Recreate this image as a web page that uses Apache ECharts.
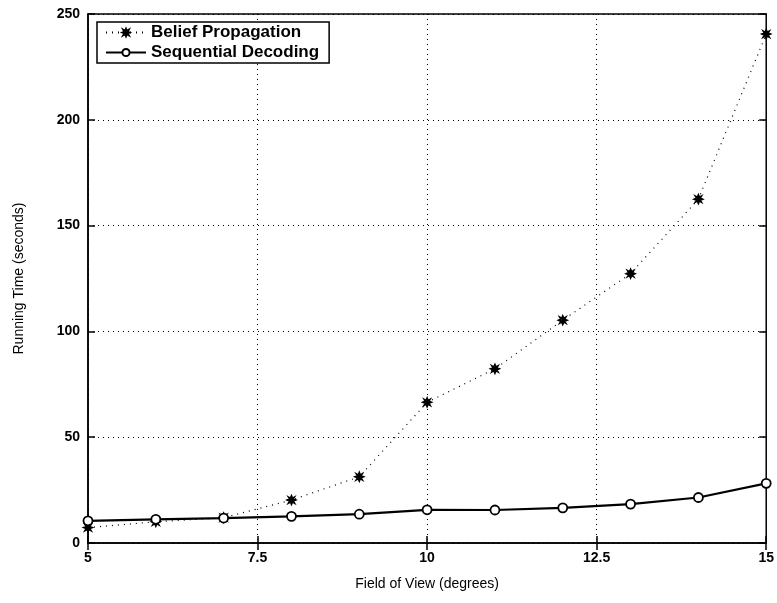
<!DOCTYPE html>
<html>
<head>
<meta charset="utf-8">
<script src="https://cdn.jsdelivr.net/npm/echarts@6/dist/echarts.min.js"></script>
<style>
  html, body { margin: 0; padding: 0; background: #fff; }
  #chart { width: 777px; height: 603px; }
</style>
</head>
<body>
<div id="chart"></div>
<script>
// field of view (degrees)
var fov = [5, 6, 7, 8, 9, 10, 11, 12, 13, 14, 15];
// running time (seconds)
var beliefProp = [7.3, 10, 12, 20.3, 31.3, 66.5, 82.3, 105.3, 127.3, 162.5, 240.5];
var seqDecoding = [10.5, 11.2, 11.8, 12.6, 13.6, 15.7, 15.6, 16.6, 18.4, 21.5, 28.2];

var xTicks = [5, 7.5, 10, 12.5, 15];
var yTicks = [0, 50, 100, 150, 200, 250];

function pairs(xs, ys) {
  return xs.map(function (x, i) { return [x, ys[i]]; });
}

// blobby asterisk for the "*" marker
var starPath = 'path://M50,0 L62,28 L85,15 L72,38 L100,50 L72,62 L85,85 L62,72 L50,100 L38,72 L15,85 L28,62 L0,50 L28,38 L15,15 L38,28 Z';

var font = 'Liberation Sans, Arial, Helvetica, sans-serif';

var myChart = echarts.init(document.getElementById('chart'));
var option = {
  animation: false,
  backgroundColor: '#fff',
  textStyle: { fontFamily: font },
  grid: {
    left: 88, right: 10, top: 14, bottom: 60,
    show: true, borderColor: '#000', borderWidth: 1.5
  },
  legend: {
    left: 97, top: 22,
    orient: 'vertical',
    backgroundColor: '#fff',
    borderColor: '#000', borderWidth: 1.5,
    padding: [2, 10, 2, 8],
    itemGap: 3,
    itemWidth: 40, itemHeight: 9,
    textStyle: { fontFamily: font, fontSize: 17, fontWeight: 'bold', color: '#000' },
    data: ['Belief Propagation', 'Sequential Decoding']
  },
  xAxis: [{
    type: 'value', min: 5, max: 15, interval: 2.5,
    name: 'Field of View (degrees)', nameLocation: 'middle', nameGap: 34,
    nameTextStyle: { fontSize: 14, color: '#000' },
    axisLine: { lineStyle: { color: '#000', width: 1.5 } },
    axisTick: { inside: true, length: 7, lineStyle: { color: '#000', width: 1.5 } },
    axisLabel: {
      fontSize: 14, fontWeight: 'bold', color: '#000', margin: 8,
      formatter: function (v) { return xTicks.indexOf(v) >= 0 ? String(v) : ''; }
    },
    splitLine: { show: true, lineStyle: { color: '#000', type: [1, 4], width: 1 } }
  }, {
    type: 'value', min: 5, max: 15, interval: 2.5, position: 'top',
    axisLine: { show: false },
    axisTick: { inside: true, length: 7, lineStyle: { color: '#000', width: 1.5 } },
    axisLabel: { show: false },
    splitLine: { show: false }
  }],
  yAxis: [{
    type: 'value', min: 0, max: 250, interval: 50,
    name: 'Running Time (seconds)', nameLocation: 'middle', nameGap: 62,
    nameTextStyle: { fontSize: 14, color: '#000' },
    axisLine: { show: true, lineStyle: { color: '#000', width: 1.5 } },
    axisTick: { show: true, inside: true, length: 7, lineStyle: { color: '#000', width: 1.5 } },
    axisLabel: {
      fontSize: 14, fontWeight: 'bold', color: '#000', margin: 8,
      formatter: function (v) { return yTicks.indexOf(v) >= 0 ? String(v) : ''; }
    },
    splitLine: { show: true, lineStyle: { color: '#000', type: [1, 4], width: 1 } }
  }, {
    type: 'value', min: 0, max: 250, interval: 50, position: 'right',
    axisLine: { show: false },
    axisTick: { show: true, inside: true, length: 7, lineStyle: { color: '#000', width: 1.5 } },
    axisLabel: { show: false },
    splitLine: { show: false }
  }],
  series: [{
    name: 'Belief Propagation',
    type: 'line',
    data: pairs(fov, beliefProp),
    symbol: starPath,
    symbolSize: 9,
    itemStyle: { color: '#000', borderColor: '#000', borderWidth: 1.5 },
    lineStyle: { color: '#000', width: 1.2, type: [1, 5] },
    z: 3
  }, {
    name: 'Sequential Decoding',
    type: 'line',
    data: pairs(fov, seqDecoding),
    symbol: 'circle',
    symbolSize: 9,
    showAllSymbol: true,
    itemStyle: { color: '#fff', borderColor: '#000', borderWidth: 1.8 },
    lineStyle: { color: '#000', width: 2.2 },
    z: 4
  }]
};
myChart.setOption(option);
</script>
</body>
</html>
